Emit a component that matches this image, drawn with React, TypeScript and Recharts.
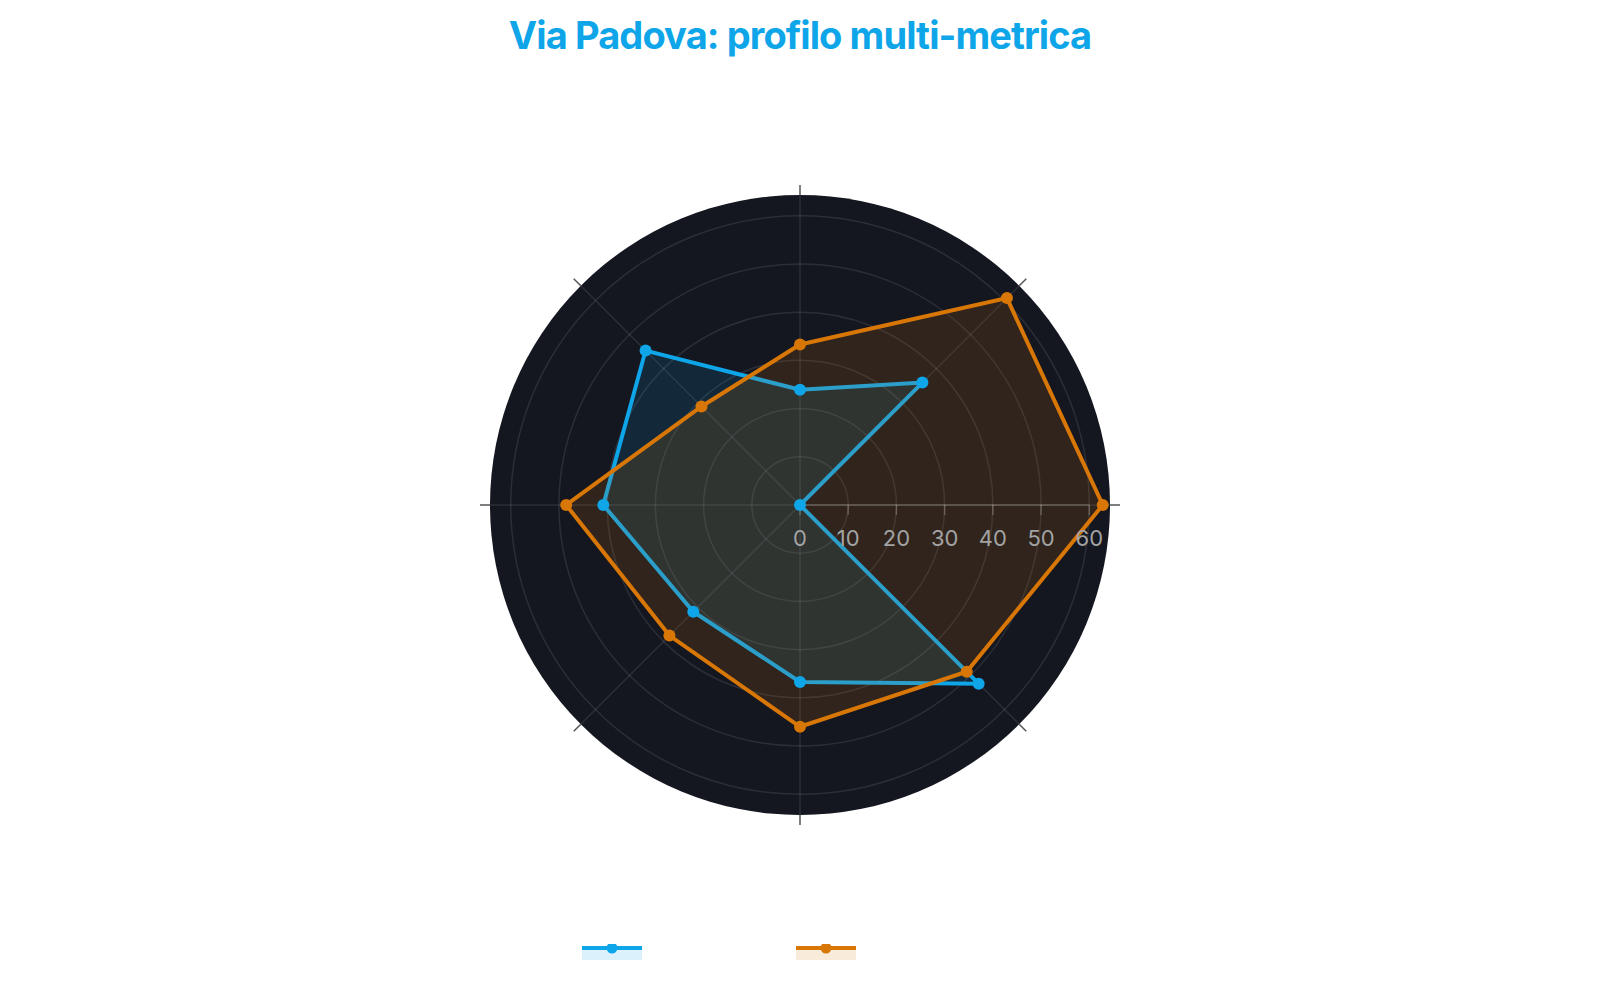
import { Legend, PolarAngleAxis, PolarGrid, PolarRadiusAxis, Radar, RadarChart } from 'recharts'

const categories = ['Traffico', 'Rumore', 'Verde', 'Servizi', 'Commercio', 'Sicurezza', 'Trasporti', 'Cultura']
const seriesBlue = [23.9, 35.9, 0, 52.4, 36.7, 31.3, 40.8, 45.3]
const seriesOrange = [33.3, 60.7, 62.8, 48.9, 46, 38.3, 48.5, 28.9]
const radiusTicks = [0, 10, 20, 30, 40, 50, 60]
const radiusMax = 64.3

const BLUE = '#0ea5e9'
const ORANGE = '#d97706'
const WIDTH = 1600
const HEIGHT = 1000
const CX = 800
const CY = 505
const OUTER = 310

const seriesOrder = ['Via Padova', 'Media città']

const data = categories.map((name, i) => ({ name, blue: seriesBlue[i], orange: seriesOrange[i] }))

function RadiusTick(props: any) {
  const { x, y, payload } = props
  return (
    <g>
      <line x1={x} y1={y} x2={x} y2={y + 10} stroke="rgba(255,255,255,0.22)" strokeWidth={1.5} />
      <text x={x} y={y + 41} textAnchor="middle" fontSize={22} fill="#a3a3a3" fontFamily="Inter">
        {payload.value}
      </text>
    </g>
  )
}

const makeDot = (color: string) => (props: any) => {
  const { cx, cy, index } = props
  return <circle key={`dot-${index}`} cx={cx} cy={cy} r={6} fill={color} />
}

function LegendContent(props: any) {
  const payload = [...(props.payload || [])].sort(
    (a: any, b: any) => seriesOrder.indexOf(a.value) - seriesOrder.indexOf(b.value),
  )
  return (
    <div style={{ display: 'flex', paddingLeft: 582 }}>
      {payload.map((entry: any) => (
        <div key={entry.value} style={{ width: 214, height: 20 }}>
          <svg width={60} height={20}>
            <rect x={0} y={6} width={60} height={10} fill={entry.color} fillOpacity={0.15} />
            <line x1={0} y1={4} x2={60} y2={4} stroke={entry.color} strokeWidth={4} />
            <circle cx={30} cy={4} r={5.5} fill={entry.color} />
          </svg>
        </div>
      ))}
    </div>
  )
}

export default function App() {
  return (
    <div style={{ position: 'fixed', left: 0, top: 0, width: WIDTH, height: HEIGHT, background: '#fff', fontFamily: 'Inter' }}>
      <div
        style={{
          position: 'absolute',
          top: 12,
          left: 0,
          width: WIDTH,
          textAlign: 'center',
          fontSize: 38,
          fontWeight: 700,
          color: BLUE,
          letterSpacing: -0.9,
        }}
      >
        Via Padova: profilo multi-metrica
      </div>
      <div
        style={{
          position: 'absolute',
          left: CX - OUTER,
          top: CY - OUTER,
          width: OUTER * 2,
          height: OUTER * 2,
          borderRadius: '50%',
          background: '#141720',
        }}
      />
      <div style={{ position: 'absolute', left: 0, top: 0 }}>
        <RadarChart width={WIDTH} height={HEIGHT} data={data} cx={CX} cy={CY} outerRadius={OUTER} margin={{ top: 0, right: 0, bottom: 0, left: 0 }}>
          <PolarGrid gridType="circle" stroke="rgba(255,255,255,0.1)" strokeWidth={1.5} />
          <PolarAngleAxis dataKey="name" tick={false} axisLine={false} tickLine={{ stroke: '#555', strokeWidth: 1.5 }} tickSize={10} />
          <PolarRadiusAxis
            angle={0}
            domain={[0, radiusMax]}
            ticks={radiusTicks as any}
            axisLine={{ stroke: 'rgba(255,255,255,0.22)', strokeWidth: 1.5 }}
            tick={RadiusTick}
            tickLine={false}
          />
          <Radar
            name="Via Padova"
            dataKey="blue"
            stroke={BLUE}
            strokeWidth={4}
            fill={BLUE}
            fillOpacity={0.13}
            dot={makeDot(BLUE)}
            isAnimationActive={false}
          />
          <Radar
            name="Media città"
            dataKey="orange"
            stroke={ORANGE}
            strokeWidth={4}
            fill={ORANGE}
            fillOpacity={0.14}
            dot={makeDot(ORANGE)}
            isAnimationActive={false}
          />
          <Legend content={LegendContent} wrapperStyle={{ position: 'absolute', top: 944, left: 0, width: WIDTH }} />
        </RadarChart>
      </div>
    </div>
  )
}
